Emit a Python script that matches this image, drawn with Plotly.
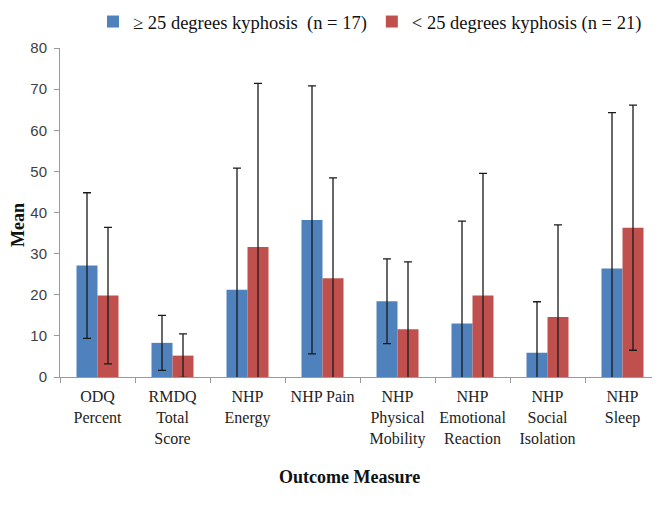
import plotly.graph_objects as go

categories = ["ODQ<br>Percent", "RMDQ<br>Total<br>Score", "NHP<br>Energy", "NHP Pain",
              "NHP<br>Physical<br>Mobility", "NHP<br>Emotional<br>Reaction",
              "NHP<br>Social<br>Isolation", "NHP<br>Sleep"]
series_names = ["\u2265 25 degrees kyphosis  (n = 17)", "< 25 degrees kyphosis (n = 21)"]
mean_high = [27.1, 8.3, 21.2, 38.2, 18.4, 13.0, 5.9, 26.4]
sd_high = [17.7, 6.7, 29.6, 32.6, 10.3, 24.9, 12.4, 37.9]
mean_low = [19.8, 5.2, 31.6, 24.0, 11.6, 19.8, 14.6, 36.3]
sd_low = [16.6, 5.3, 39.8, 24.4, 16.4, 29.7, 22.4, 29.8]
y_ticks = [0, 10, 20, 30, 40, 50, 60, 70, 80]

colors = ["#4F81BD", "#C0504D"]
serif = "Liberation Serif, Times New Roman, serif"

W, H = 652, 502  # page body has an 8px default margin

fig = go.Figure()
for name, m, s, c in [(series_names[0], mean_high, sd_high, colors[0]),
                      (series_names[1], mean_low, sd_low, colors[1])]:
    fig.add_trace(go.Bar(
        x=categories, y=m, name=name, marker=dict(color=c, line=dict(width=0)),
        error_y=dict(type="data", array=s, visible=True, color="#1a1a1a",
                     thickness=1.3, width=4),
    ))

fig.update_layout(
    width=W, height=H,
    margin=dict(l=52, r=0, t=40, b=133, autoexpand=False),
    plot_bgcolor="white", paper_bgcolor="white",
    barmode="group", bargap=0.44, bargroupgap=0,
    showlegend=True,
    legend=dict(orientation="h", x=85 / W, xanchor="left", xref="container",
                y=1 - 14 / H, yanchor="middle", yref="container",
                font=dict(family=serif, size=18.5, color="#111"),
                itemwidth=30, traceorder="normal", borderwidth=0,
                bgcolor="rgba(0,0,0,0)"),
    xaxis=dict(
        showline=True, linecolor="#9a9a9a", linewidth=1,
        ticks="outside", tickson="boundaries", ticklen=5, tickcolor="#9a9a9a",
        tickfont=dict(family=serif, size=16, color="#222"), tickangle=0,
        ticklabelstandoff=5,
        showgrid=False, automargin=False,
    ),
    yaxis=dict(
        range=[0, 80], tickvals=y_ticks, showline=True, linecolor="#9a9a9a", linewidth=1,
        ticks="outside", ticklen=5, tickcolor="#9a9a9a", ticklabelstandoff=4,
        tickfont=dict(family="Liberation Sans, Arial, sans-serif", size=15, color="#404040"),
        showgrid=False, zeroline=False, automargin=False,
    ),
    annotations=[
        dict(text="<b>Outcome Measure</b>", xref="paper", yref="paper",
             x=(349 - 60) / 600, y=-(477 - 377) / 329, xanchor="center", yanchor="middle",
             showarrow=False, font=dict(family=serif, size=18, color="#111")),
        dict(text="<b>Mean</b>", xref="paper", yref="paper",
             x=-(60 - 18) / 600, y=(377 - 225) / 329, xanchor="center", yanchor="middle",
             textangle=-90, showarrow=False, font=dict(family=serif, size=18, color="#111")),
    ],
)

fig.write_html("out.html")
